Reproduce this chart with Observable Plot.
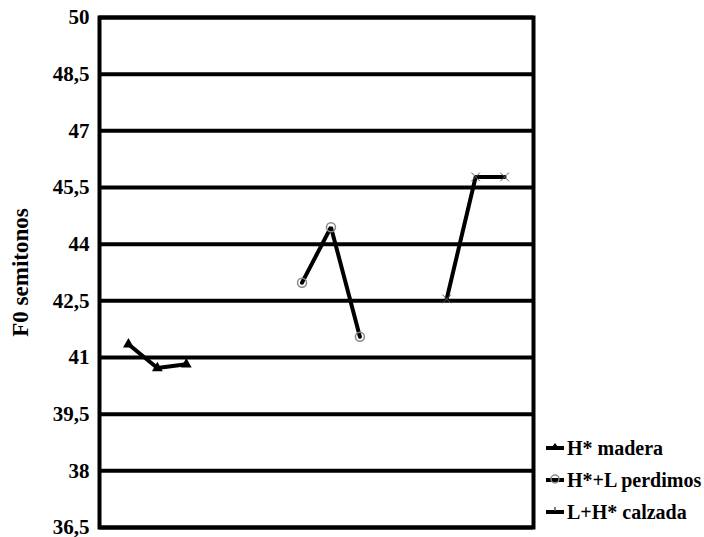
<!DOCTYPE html>
<html>
<head>
<meta charset="utf-8">
<script src="https://cdn.jsdelivr.net/npm/d3@7"></script>
<script src="https://cdn.jsdelivr.net/npm/@observablehq/plot@0.6"></script>
</head>
<body style="margin:0;padding:0;background:#fff">
<div id="wrap" style="position:relative;width:704px;height:537px;font-family:'Liberation Serif'"></div>
<script>
// Category positions (slots along the x axis) and F0 values (semitones)
const series = ["H* madera", "H*+L perdimos", "L+H* calzada"];
const maderaX = [0, 1, 2];
const maderaY = [41.35, 40.72, 40.82];
const perdimosX = [6, 7, 8];
const perdimosY = [42.98, 44.45, 41.55];
const calzadaX = [11, 12, 13];
const calzadaY = [42.55, 45.78, 45.78];
const yTicks = [36.5, 38, 39.5, 41, 42.5, 44, 45.5, 47, 48.5, 50];

const data = [
  ...maderaX.map((x, i) => ({x, y: maderaY[i], s: series[0]})),
  ...perdimosX.map((x, i) => ({x, y: perdimosY[i], s: series[1]})),
  ...calzadaX.map((x, i) => ({x, y: calzadaY[i], s: series[2]}))
];

const FF = "Liberation Serif";

const chart = Plot.plot({
  width: 704,
  height: 537,
  marginLeft: 99,
  marginRight: 171,
  marginTop: 17,
  marginBottom: 10,
  style: {fontFamily: FF, background: "#fff", color: "#000"},
  x: {domain: [-1, 14], axis: null},
  y: {domain: [36.5, 50]},
  marks: [
    Plot.ruleY(yTicks, {stroke: "#000", strokeWidth: 4}),
    Plot.frame({stroke: "#000", strokeWidth: 4}),
    Plot.axisY({
      ticks: yTicks, tickSize: 0, tickPadding: 10, label: null,
      tickFormat: d => String(d).replace(".", ","),
      fontSize: 21, fontFamily: FF, fontWeight: "bold", fill: "#000"
    }),
    Plot.text(["F0 semitonos"], {
      frameAnchor: "left", textAnchor: "middle", dx: -79, rotate: -90,
      fontSize: 23, fontFamily: FF, fontWeight: "bold", fill: "#000"
    }),
    Plot.line(data, {x: "x", y: "y", z: "s", stroke: "#000", strokeWidth: 4, strokeLinejoin: "miter"}),
    Plot.dot(data.filter(d => d.s === series[0]), {x: "x", y: "y", symbol: "triangle", r: 4, fill: "#000"}),
    Plot.dot(data.filter(d => d.s === series[1]), {x: "x", y: "y", symbol: "circle", r: 4.5, fill: "none", stroke: "#888", strokeWidth: 1.5}),
    Plot.dot(data.filter(d => d.s === series[2]), {x: "x", y: "y", symbol: "times", r: 4, stroke: "#555", strokeWidth: 1})
  ]
});

const wrap = document.getElementById("wrap");
wrap.appendChild(chart);

const icons = [
  '<line x1="1" y1="10" x2="19" y2="10" stroke="#000" stroke-width="4"/><path d="M7 9 L10 5 L13 9 Z" fill="#000"/>',
  '<line x1="1" y1="10" x2="19" y2="10" stroke="#000" stroke-width="4"/><circle cx="10" cy="9" r="4" fill="none" stroke="#888" stroke-width="1.5"/>',
  '<line x1="1" y1="10" x2="19" y2="10" stroke="#000" stroke-width="4"/><path d="M10 5 L10 9" stroke="#555" stroke-width="1.5"/>'
];
const legend = document.createElement("div");
legend.style.cssText = "position:absolute;left:545px;top:432px;font-family:'Liberation Serif';font-weight:bold;font-size:20px;color:#000";
legend.innerHTML = series.map((s, i) =>
  `<div style="display:flex;align-items:center;height:32px"><svg width="20" height="20" viewBox="0 0 20 20" style="margin-right:2px">${icons[i]}</svg><span>${s}</span></div>`
).join("");
wrap.appendChild(legend);
</script>
</body>
</html>
